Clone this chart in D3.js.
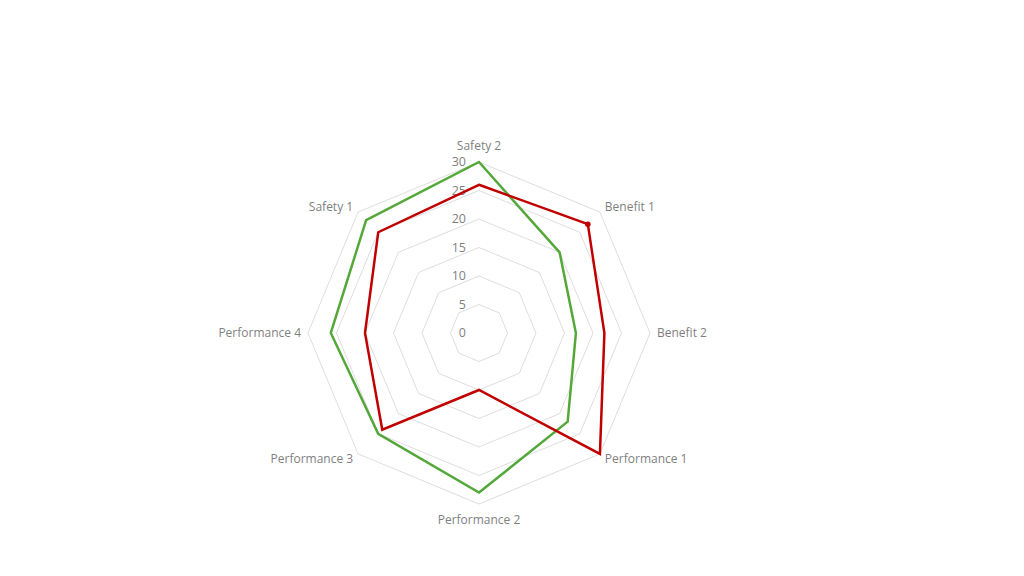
<!DOCTYPE html>
<html>
<head>
<meta charset="utf-8">
<script src="https://cdn.jsdelivr.net/npm/d3@7"></script>
<style>
  body { margin: 0; background: #fff; }
  text { font-family: "Open Sans", sans-serif; }
</style>
</head>
<body>
<div id="chart"></div>
<script>
const categories = ['Safety 2', 'Benefit 1', 'Benefit 2', 'Performance 1', 'Performance 2', 'Performance 3', 'Performance 4', 'Safety 1'];
const greenValues = [30, 20, 17, 22, 28, 25, 26, 28];
const redValues = [26, 27, 22, 30, 10, 24, 20, 25];
const tickValues = [0, 5, 10, 15, 20, 25, 30];

const width = 1024;
const height = 576;
const cx = 479;
const cy = 333;
const radius = 171;

const svg = d3.select('#chart')
  .append('svg')
  .attr('width', width)
  .attr('height', height);

const g = svg.append('g')
  .attr('transform', `translate(${cx},${cy})`);

// Radial scale and angle for each axis (clockwise from top)
const r = d3.scaleLinear().domain([0, 30]).range([0, radius]);
const angle = d3.scalePoint()
  .domain(categories)
  .range([0, 2 * Math.PI * (categories.length - 1) / categories.length]);

const line = d3.lineRadial()
  .angle((d, i) => angle(categories[i]))
  .radius((d) => r(d))
  .curve(d3.curveLinearClosed);

// Octagon gridlines
g.selectAll('.grid')
  .data(tickValues.filter((t) => t > 0))
  .enter()
  .append('path')
  .attr('class', 'grid')
  .attr('d', (t) => line(categories.map(() => t)))
  .attr('fill', 'none')
  .attr('stroke', '#dedede')
  .attr('stroke-width', 1);

// Tick labels along the top axis
g.selectAll('.tick-label')
  .data(tickValues)
  .enter()
  .append('text')
  .attr('class', 'tick-label')
  .attr('x', -13)
  .attr('y', (t) => -r(t))
  .attr('dy', '0.35em')
  .attr('text-anchor', 'end')
  .attr('fill', '#7f7f7f')
  .attr('font-size', 12.5)
  .text((t) => t);

// Series lines
const series = [
  { values: greenValues, color: '#54a83a' },
  { values: redValues, color: '#c00000' }
];

g.selectAll('.series')
  .data(series)
  .enter()
  .append('path')
  .attr('class', 'series')
  .attr('d', (s) => line(s.values))
  .attr('fill', 'none')
  .attr('stroke', (s) => s.color)
  .attr('stroke-width', 2.5)
  .attr('stroke-linejoin', 'miter');

// Highlighted point on the red series (Benefit 1)
const marked = 1;
g.append('circle')
  .attr('cx', r(redValues[marked]) * Math.sin(angle(categories[marked])))
  .attr('cy', -r(redValues[marked]) * Math.cos(angle(categories[marked])))
  .attr('r', 2.8)
  .attr('fill', '#c00000');

// Category labels
const labelR = 178;
g.selectAll('.cat-label')
  .data(categories)
  .enter()
  .append('text')
  .attr('class', 'cat-label')
  .attr('x', (c) => labelR * Math.sin(angle(c)))
  .attr('y', (c) => {
    const cos = Math.cos(angle(c));
    if (cos > 0.9) return -labelR - 5;
    if (cos < -0.9) return labelR + 13;
    return -labelR * cos + 4;
  })
  .attr('text-anchor', (c) => {
    const s = Math.sin(angle(c));
    if (s > 0.1) return 'start';
    if (s < -0.1) return 'end';
    return 'middle';
  })
  .attr('fill', '#7f7f7f')
  .attr('font-size', 12)
  .text((c) => c);
</script>
</body>
</html>
